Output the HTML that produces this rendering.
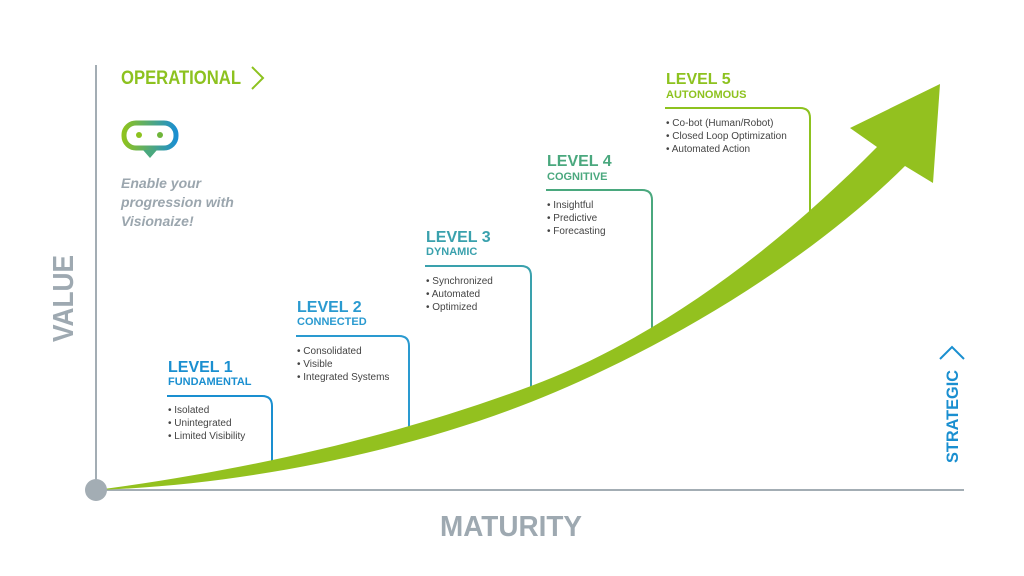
<!DOCTYPE html>
<html><head><meta charset="utf-8"><style>
body{margin:0;background:#fff;}
svg{display:block;font-family:"Liberation Sans",sans-serif;}
</style></head><body>
<svg width="1024" height="576" viewBox="0 0 1024 576">
<defs><linearGradient id="g" x1="0" x2="1"><stop offset="0" stop-color="#8dc21f"/><stop offset="1" stop-color="#1b8fd0"/></linearGradient></defs>
<line x1="96" y1="65" x2="96" y2="490" stroke="#a3adb4" stroke-width="2"/>
<line x1="96" y1="490" x2="964" y2="490" stroke="#a3adb4" stroke-width="2"/>
<g fill="none" stroke-width="2">
<path d="M167,396 H262 Q272,396 272,406 V468" stroke="#1a8fd0"/>
<path d="M296,336 H399 Q409,336 409,346 V432" stroke="#2a9ad0"/>
<path d="M425,266 H521 Q531,266 531,276 V390" stroke="#3aa1ad"/>
<path d="M546,190 H642 Q652,190 652,200 V334" stroke="#4aa87e"/>
<path d="M665,108 H800 Q810,108 810,118 V220" stroke="#8dc21f"/>
</g>
<path d="M96,490 C250,470 400,435 531,386 S780,245 877,147 L850,128 L940,84 L933,183 L905,166 C800,270 650,355 531,402 S250,485 96,490 Z" fill="#93c11f"/>
<circle cx="96" cy="490" r="11" fill="#a3adb4"/>
<g font-weight="bold">
<text x="168" y="372" font-size="16" fill="#1a8fd0">LEVEL 1</text>
<text x="168" y="385" font-size="11" fill="#1a8fd0">FUNDAMENTAL</text>
<text x="297" y="312" font-size="16" fill="#2a9ad0">LEVEL 2</text>
<text x="297" y="325" font-size="11" fill="#2a9ad0">CONNECTED</text>
<text x="426" y="242" font-size="16" fill="#3aa1ad">LEVEL 3</text>
<text x="426" y="255" font-size="11" fill="#3aa1ad">DYNAMIC</text>
<text x="547" y="166" font-size="16" fill="#4aa87e">LEVEL 4</text>
<text x="547" y="180" font-size="11" fill="#4aa87e">COGNITIVE</text>
<text x="666" y="84" font-size="16" fill="#8dc21f">LEVEL 5</text>
<text x="666" y="98" font-size="11" fill="#8dc21f">AUTONOMOUS</text>
</g>
<g font-size="10" fill="#444">
<text x="168" y="413">•  Isolated</text><text x="168" y="426">•  Unintegrated</text><text x="168" y="439">•  Limited Visibility</text>
<text x="297" y="354">•  Consolidated</text><text x="297" y="367">•  Visible</text><text x="297" y="380">•  Integrated Systems</text>
<text x="426" y="284">•  Synchronized</text><text x="426" y="297">•  Automated</text><text x="426" y="310">•  Optimized</text>
<text x="547" y="208">•  Insightful</text><text x="547" y="221">•  Predictive</text><text x="547" y="234">•  Forecasting</text>
<text x="666" y="126">•  Co-bot (Human/Robot)</text><text x="666" y="139">•  Closed Loop Optimization</text><text x="666" y="152">•  Automated Action</text>
</g>
<text x="121" y="84" font-size="19" font-weight="bold" fill="#8dc21f" textLength="120" lengthAdjust="spacingAndGlyphs">OPERATIONAL</text>
<path d="M252,67 L263,78 L252,89" fill="none" stroke="#8dc21f" stroke-width="2"/>
<rect x="124" y="123" width="52" height="25" rx="12" fill="none" stroke="url(#g)" stroke-width="5"/>
<path d="M143,150 L157,150 L150,158 Z" fill="#4aa87e"/>
<circle cx="139" cy="135" r="3" fill="#8dc21f"/><circle cx="160" cy="135" r="3" fill="#6fb53a"/>
<g font-size="14" font-weight="bold" font-style="italic" fill="#9ba6ae">
<text x="121" y="188">Enable your</text><text x="121" y="207">progression with</text><text x="121" y="226">Visionaize!</text>
</g>
<text transform="translate(73,342) rotate(-90)" font-size="29" font-weight="bold" fill="#9ea9b1" textLength="87" lengthAdjust="spacingAndGlyphs">VALUE</text>
<text x="440" y="536" font-size="29" font-weight="bold" fill="#9ea9b1" textLength="142" lengthAdjust="spacingAndGlyphs">MATURITY</text>
<text transform="translate(958,463) rotate(-90)" font-size="17" font-weight="bold" fill="#1a8fd0" textLength="93" lengthAdjust="spacingAndGlyphs">STRATEGIC</text>
<path d="M940,359 L952,347 L964,359" fill="none" stroke="#1a8fd0" stroke-width="2"/>
</svg>
</body></html>
